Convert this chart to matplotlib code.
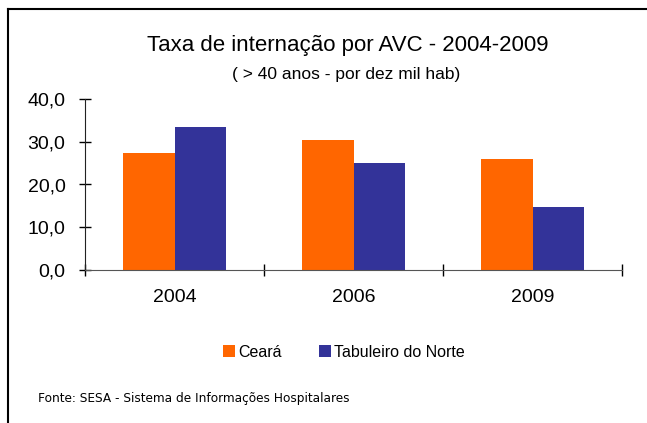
import matplotlib
matplotlib.use("Agg")
import matplotlib.pyplot as plt
from matplotlib.lines import Line2D
import numpy as np

anos = ["2004", "2006", "2009"]
ceara = [27.4, 30.4, 26.0]
tabuleiro = [33.5, 25.0, 14.7]
yticks = [0, 10, 20, 30, 40]

plt.rcParams['font.family'] = ['Liberation Sans', 'DejaVu Sans']

fig = plt.figure(figsize=(6.47, 4.23), dpi=100)
ax = fig.add_axes([85/647, 1-270/423, 537/647, 171/423])

x = np.arange(len(anos))
w = 0.285
ax.bar(x - w/2, ceara, w, color="#FF6600", label="Ceará")
ax.bar(x + w/2, tabuleiro, w, color="#333399", label="Tabuleiro do Norte")

ax.set_xlim(-0.5, len(anos) - 0.5)
ax.set_ylim(0, 40)
ax.set_yticks(yticks)
ax.set_yticklabels([f"{v:.1f}".replace(".", ",") for v in yticks], fontsize=14)
ax.set_xticks(x)
ax.set_xticklabels(anos, fontsize=14)
ax.tick_params(axis="x", length=0, pad=14)
ax.set_xticks(np.arange(len(anos) + 1) - 0.5, minor=True)
ax.tick_params(axis="x", which="minor", direction="inout", length=9, width=1)
ax.tick_params(axis="y", direction="inout", length=9, width=1, pad=9.5)
for s in ["top", "right"]:
    ax.spines[s].set_visible(False)
ax.spines["left"].set_color("#222222")
ax.spines["bottom"].set_color("#555555")

fig.text(348/647, 1-45/423, "Taxa de internação por AVC - 2004-2009", ha="center", va="center", fontsize=16)
fig.text(346/647, 1-74/423, "( > 40 anos - por dez mil hab)", ha="center", va="center", fontsize=12.5)

fig.legend(loc="center", bbox_to_anchor=(344/647, 1-352/423), ncol=2, frameon=False,
           fontsize=11.5, handlelength=0.75, handleheight=0.75, handletextpad=0.2, columnspacing=2.3)

fig.text(38/647, 1-398/423, "Fonte: SESA - Sistema de Informações Hospitalares", ha="left", va="center",
         fontsize=8.7, family="DejaVu Sans")

# moldura (topo e esquerda)
fig.add_artist(Line2D([8/647, 1], [1-9/423, 1-9/423], color="black", lw=1.5))
fig.add_artist(Line2D([8/647, 8/647], [0, 1-9/423], color="black", lw=1.5))

fig.savefig("out.png", dpi=100)
